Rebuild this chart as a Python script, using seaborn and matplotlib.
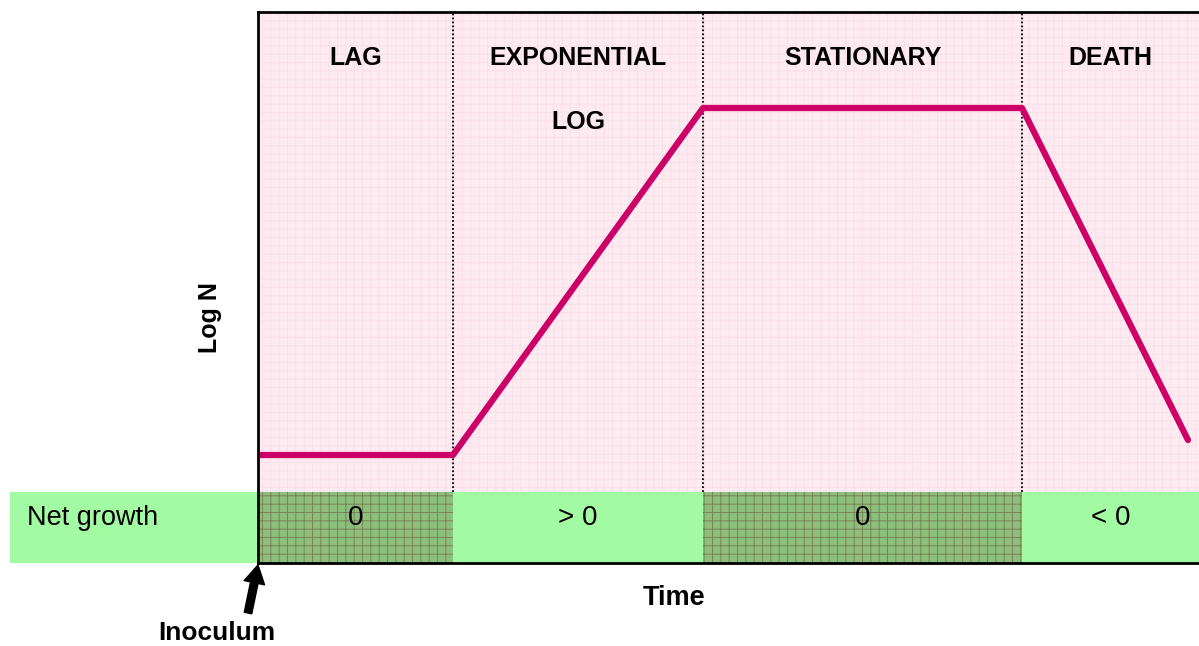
import numpy as np
import pandas as pd
import matplotlib
matplotlib.use("Agg")
import matplotlib.pyplot as plt
from matplotlib.patches import Rectangle
import seaborn as sns

# -----------------------------------------------------------------------------
# DATA
# -----------------------------------------------------------------------------

phase_names = ["LAG", "EXPONENTIAL", "STATIONARY", "DEATH"]
phase_edges = [0.0, 1.95, 4.45, 7.64, 9.41]
net_growth = ["0", "> 0", "0", "< 0"]
curve_time = [0.02, 1.95, 4.45, 7.64, 9.30]
curve_logn = [1.08, 1.08, 4.55, 4.55, 1.23]

BAND_TOP = 0.71
Y_TOP = 5.51

PINK = "#fdebf1"
PINK_GRID = "#fbdee7"
LIGHT_GREEN = "#a2faa3"
DARK_GREEN = "#8bbf7b"
DARK_GRID = "#787a52"
LINE = "#cc0066"

# -----------------------------------------------------------------------------
# FIGURE
# -----------------------------------------------------------------------------

sns.set_theme(style="white")
plt.rcParams["font.family"] = ["Liberation Sans", "DejaVu Sans"]
plt.rcParams["text.color"] = "black"
plt.rcParams["hatch.linewidth"] = 0.6

fig = plt.figure(figsize=(11.99, 6.46), dpi=100)
ax = fig.add_axes([258 / 1199, 83 / 646, 941 / 1199, 551 / 646])
ax.set_xlim(phase_edges[0], phase_edges[-1])
ax.set_ylim(0, Y_TOP)

# pink grid-paper background
ax.add_patch(Rectangle((phase_edges[0], 0), phase_edges[-1], Y_TOP,
                       facecolor=PINK, edgecolor=PINK_GRID, hatch="++",
                       linewidth=0, zorder=0))

# dotted phase boundaries
for x in phase_edges[1:-1]:
    ax.plot([x, x], [BAND_TOP, Y_TOP], color="black", linestyle=(0, (1, 1.2)),
            linewidth=1.3, zorder=1)

# growth curve
df = pd.DataFrame({"time": curve_time, "logN": curve_logn})
sns.lineplot(data=df, x="time", y="logN", color=LINE, linewidth=4.5,
             ax=ax, zorder=3, sort=False)

# phase labels
for i, name in enumerate(phase_names):
    mid = (phase_edges[i] + phase_edges[i + 1]) / 2
    ax.text(mid, 5.05, name, ha="center", va="center", fontsize=18,
            fontweight="bold", zorder=4)
ax.text((phase_edges[1] + phase_edges[2]) / 2, 4.41, "LOG", ha="center",
        va="center", fontsize=18, fontweight="bold", zorder=4)

# net growth band
ax.add_patch(Rectangle((-2.48, 0), phase_edges[-1] + 2.48, BAND_TOP,
                       facecolor=LIGHT_GREEN, edgecolor="none", linewidth=0,
                       clip_on=False, zorder=2))
for i, val in enumerate(net_growth):
    x0, x1 = phase_edges[i], phase_edges[i + 1]
    if val == "0":
        ax.add_patch(Rectangle((x0, 0), x1 - x0, BAND_TOP,
                               facecolor=DARK_GREEN, edgecolor=DARK_GRID,
                               hatch="++", linewidth=0, zorder=2.5))
    ax.text((x0 + x1) / 2, 0.45, val, ha="center", va="center",
            fontsize=20, zorder=4)
ax.text(-2.31, 0.45, "Net growth", ha="left", va="center", fontsize=19.5,
        clip_on=False, zorder=4)

# axes frame
for side in ["left", "top", "bottom"]:
    ax.spines[side].set_visible(True)
    ax.spines[side].set_color("black")
    ax.spines[side].set_linewidth(2)
    ax.spines[side].set_zorder(5)
ax.spines["right"].set_visible(False)
ax.set_xticks([])
ax.set_yticks([])
ax.set_xlabel("")
ax.set_ylabel("")

# axis titles
ax.text(-0.48, 2.45, "Log N", rotation=90, ha="center", va="center",
        fontsize=18, fontweight="bold", clip_on=False)
ax.text(4.16, -0.35, "Time", ha="center", va="center", fontsize=19.5,
        fontweight="bold", clip_on=False)

# inoculum arrow
ax.annotate("", xy=(0.0, -0.02), xytext=(-0.1, -0.5),
            arrowprops=dict(facecolor="black", edgecolor="black", width=5.5,
                            headwidth=15, headlength=13),
            annotation_clip=False)
ax.text(-0.41, -0.7, "Inoculum", ha="center", va="center", fontsize=19,
        fontweight="bold", clip_on=False)

fig.savefig("out.png", dpi=100)
plt.close(fig)
